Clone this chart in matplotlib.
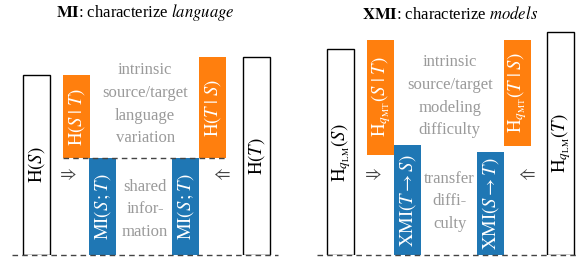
import matplotlib.pyplot as plt

plt.rcParams['font.family'] = ['Liberation Serif', 'DejaVu Sans']
plt.rcParams['mathtext.fontset'] = 'stix'

# ---- data (heights in arbitrary units, baseline = 0) ----
# left panel: MI
mi_entropy = [18.05, 19.85]          # H(S), H(T)
mi_cond = [8.35, 10.15]              # H(S|T), H(T|S)
mi_shared = [9.7, 9.7]               # MI(S;T) drawn twice
mi_labels_entropy = [r'$\mathrm{H}(S)$', r'$\mathrm{H}(T)$']
mi_labels_cond = [r'$\mathrm{H}(S\;|\;T)$', r'$\mathrm{H}(T\;|\;S)$']
mi_labels_shared = [r'$\mathrm{MI}(S\,;T)$', r'$\mathrm{MI}(S\,;T)$']

# right panel: XMI
xmi_entropy = [20.6, 22.35]          # H_qLM(S), H_qLM(T)
xmi_cond_bottom = [10.08, 10.96]
xmi_cond = [11.45, 10.57]            # H_qMT(S|T), H_qMT(T|S)
xmi_transfer = [11.0, 10.3]          # XMI(T->S), XMI(S->T)
xmi_labels_entropy = [r'$\mathrm{H}_{q_{\mathrm{LM}}}(S)$', r'$\mathrm{H}_{q_{\mathrm{LM}}}(T)$']
xmi_labels_cond = [r'$\mathrm{H}_{q_{\mathrm{MT}}}(S\;|\;T)$', r'$\mathrm{H}_{q_{\mathrm{MT}}}(T\;|\;S)$']
xmi_labels_transfer = [r'$\mathrm{XMI}(T\rightarrow S)$', r'$\mathrm{XMI}(S\rightarrow T)$']

# ---- layout ----
slots = [0, 1.48, 2.46, 5.54, 6.54, 8.15]   # H(S), cond, shared, shared, cond, H(T)
ORANGE = '#ff7f0e'
BLUE = '#1f77b4'
GRAY = '#9a9a9a'
W, H = 578, 257

fig = plt.figure(figsize=(W / 100, H / 100), dpi=100)


def panel(x0, entropy, cond_bottom, cond, mid, lab_e, lab_c, lab_m,
          title, top_text, top_y, mid_text, mid_y, title_y, dash):
    ax = fig.add_axes([x0 / W, 1.7 / H, 266 / W, 255.3 / H])
    ax.set_xlim(-0.9, 8.95)
    ax.set_ylim(0, 25.53)
    ax.axis('off')
    ex = [slots[0], slots[5]]
    cx = [slots[1], slots[4]]
    mx = [slots[2], slots[3]]
    ax.bar(ex, entropy, width=1, color='white', edgecolor='black', lw=1)
    ax.bar(cx, cond, bottom=cond_bottom, width=1, color=ORANGE)
    ax.bar(mx, mid, width=1, color=BLUE)
    for x, h, t in zip(ex, entropy, lab_e):
        ax.text(x, h / 2, t, rotation=90, ha='center', va='center',
                fontsize=13.5, color='black')
    for x, b, h, t in zip(cx, cond_bottom, cond, lab_c):
        ax.text(x, b + h / 2, t, rotation=90, ha='center', va='center',
                fontsize=13.5, color='white')
    for x, h, t in zip(mx, mid, lab_m):
        ax.text(x, h / 2, t, rotation=90, ha='center', va='center',
                fontsize=13.5, color='white')
    ax.axhline(0, color='#444444', lw=1, ls=(0, (4, 3)), clip_on=False)
    if dash:
        ax.plot([slots[1] - 0.5, slots[4] + 0.5], [cond_bottom[0]] * 2,
                color='#444444', lw=1, ls=(0, (4, 3)))
    ax.text(1.14, 8.1, r'$\Rightarrow$', ha='center', va='center',
            fontsize=13, color='#444444')
    ax.text(6.84, 8.1, r'$\Leftarrow$', ha='center', va='center',
            fontsize=13, color='#444444')
    ax.text(4.03, top_y, top_text, ha='center', va='center', fontsize=12,
            color=GRAY, linespacing=1.55)
    ax.text(4.03, mid_y, mid_text, ha='center', va='center', fontsize=12,
            color=GRAY, linespacing=1.55)
    ax.text(4.03, title_y, title, ha='center', va='center', fontsize=12)
    return ax


panel(12, mi_entropy, mi_shared, mi_cond, mi_shared,
      mi_labels_entropy, mi_labels_cond, mi_labels_shared,
      r'$\mathbf{MI}$: characterize $\mathit{language}$',
      'intrinsic\nsource/target\nlanguage\nvariation', 15.1,
      'shared\ninfor-\nmation', 4.6, 24.3, True)

panel(316.6, xmi_entropy, xmi_cond_bottom, xmi_cond, xmi_transfer,
      xmi_labels_entropy, xmi_labels_cond, xmi_labels_transfer,
      r'$\mathbf{XMI}$: characterize $\mathit{models}$',
      'intrinsic\nsource/target\nmodeling\ndifficulty', 15.9,
      'transfer\ndiffi-\nculty', 5.4, 24.1, False)

fig.savefig('out.png', dpi=100)
